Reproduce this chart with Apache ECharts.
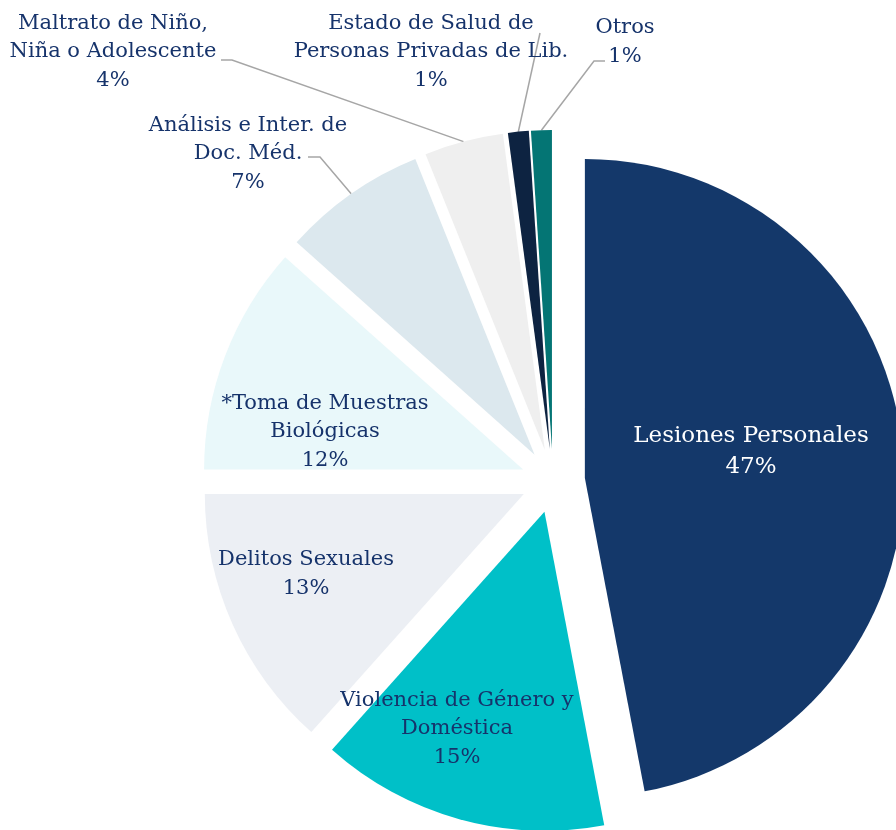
<!DOCTYPE html>
<html>
<head>
<meta charset="utf-8">
<script src="https://cdn.jsdelivr.net/npm/echarts@6/dist/echarts.min.js"></script>
<style>
html,body{margin:0;padding:0;background:#fff;}
#chart{width:896px;height:830px;}
</style>
</head>
<body>
<div id="chart"></div>
<script>
// ---- data ----
const categories = [
  'Lesiones Personales',
  'Violencia de Género y\nDoméstica',
  'Delitos Sexuales',
  '*Toma de Muestras\nBiológicas',
  'Análisis e Inter. de\nDoc. Méd.',
  'Maltrato de Niño,\nNiña o Adolescente',
  'Estado de Salud de\nPersonas Privadas de Lib.',
  'Otros'
];
const values = [47.0, 14.6, 13.4, 11.6, 7.3, 4.0, 1.05, 1.05];
const sliceColors = ['#14386A', '#00C0C8', '#ECEFF4', '#E9F8FA', '#DCE8EE', '#EFEFEF', '#0D2341', '#047574'];

// ---- layout ----
const CX = 553, CY = 481, R = 319, EXPLODE = 32;
const textColor = '#16336B';
const outside = [false, false, false, false, true, true, true, true];
const labelCenters = [
  [751, 452], [457, 729], [306, 574], [325, 432],
  [248, 154], [113, 52], [431, 52], [625, 42]
];
const lineEnds = {
  4: [[320, 157], [308, 157]],
  5: [[232, 60], [221, 60]],
  6: [[540, 33], [540, 33]],
  7: [[594, 61], [605, 61]]
};

const chart = echarts.init(document.getElementById('chart'), null, {renderer: 'canvas'});

const pieData = categories.map((n, i) => ({
  name: n, value: values[i], selected: true,
  itemStyle: {color: sliceColors[i]}
}));
const labelData = categories.map((n, i) => ({
  name: n, value: values[i],
  label: {
    position: outside[i] ? 'outside' : 'inside',
    color: i === 0 ? '#FFFFFF' : textColor,
    fontSize: i === 0 ? 23 : 21,
    lineHeight: i === 0 ? 31 : 28.5
  },
  labelLine: {show: outside[i]}
}));

chart.setOption({
  animation: false,
  backgroundColor: '#FFFFFF',
  series: [{
    type: 'pie',
    center: [CX, CY],
    radius: [0, R],
    startAngle: 90,
    clockwise: true,
    selectedMode: 'multiple',
    selectedOffset: EXPLODE,
    silent: true,
    emphasis: {disabled: true},
    label: {show: false},
    labelLine: {show: false},
    data: pieData
  }, {
    type: 'pie',
    center: [CX, CY],
    radius: [0, R],
    startAngle: 90,
    clockwise: true,
    percentPrecision: 0,
    silent: true,
    avoidLabelOverlap: false,
    emphasis: {disabled: true},
    itemStyle: {color: 'rgba(0,0,0,0)'},
    label: {
      show: true,
      formatter: '{b}\n{d}%',
      fontFamily: 'DejaVu Serif',
      fontSize: 21,
      lineHeight: 28.5,
      align: 'center'
    },
    labelLine: {
      show: true,
      length: 20,
      length2: 15,
      lineStyle: {color: '#A6A6A6', width: 1.5}
    },
    labelLayout: function (p) {
      const c = labelCenters[p.dataIndex];
      const res = {x: c[0], y: c[1], align: 'center', verticalAlign: 'middle'};
      const le = lineEnds[p.dataIndex];
      if (le && p.labelLinePoints) {
        const p0 = p.labelLinePoints[0];
        const vx = p0[0] - CX, vy = p0[1] - CY;
        const len = Math.sqrt(vx * vx + vy * vy) || 1;
        const a = [p0[0] + EXPLODE * vx / len, p0[1] + EXPLODE * vy / len];
        res.labelLinePoints = [a, le[0], le[1]];
      }
      return res;
    },
    data: labelData
  }]
});
</script>
</body>
</html>
